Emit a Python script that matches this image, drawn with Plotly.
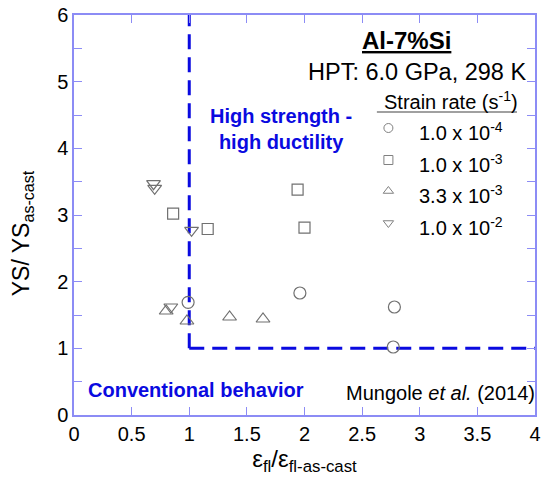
import plotly.graph_objects as go

# Data
circ_x = [0.99, 1.96, 2.78, 2.77]
circ_y = [1.69, 1.83, 1.62, 1.02]
sq_x = [0.86, 1.16, 1.94, 2.00]
sq_y = [3.02, 2.79, 3.38, 2.81]
tup_x = [0.80, 0.98, 1.35, 1.64]
tup_y = [1.56, 1.41, 1.47, 1.44]
tdn_x = [0.69, 0.70, 1.02, 0.84]
tdn_y = [3.47, 3.40, 2.77, 1.62]

# boundary lines
vline_x = [1, 1]
vline_y = [1, 6]
hline_x = [1, 4]
hline_y = [1, 1]

legend_labels = ["1.0 x 10<sup>-4</sup>", "1.0 x 10<sup>-3</sup>",
                 "3.3 x 10<sup>-3</sup>", "1.0 x 10<sup>-2</sup>"]
legend_symbols = ["circle-open", "square-open", "triangle-up-open", "triangle-down-open"]

FONT = "Arial, Liberation Sans, sans-serif"
GRAY = "#707070"
BLUE = "#0a0ae0"
AXC = "#8c8cf5"

fig = go.Figure()

fig.add_trace(go.Scatter(x=vline_x, y=vline_y, mode="lines",
                         line=dict(color=BLUE, width=3, dash="15px,8px"), showlegend=False))
fig.add_trace(go.Scatter(x=hline_x, y=hline_y, mode="lines",
                         line=dict(color=BLUE, width=3, dash="15px,8px"), showlegend=False))

series = [(circ_x, circ_y, "circle-open", 12),
          (sq_x, sq_y, "square-open", 11),
          (tup_x, tup_y, "triangle-up-open", 12),
          (tdn_x, tdn_y, "triangle-down-open", 12)]
for xs, ys, sym, sz in series:
    fig.add_trace(go.Scatter(x=xs, y=ys, mode="markers",
                             marker=dict(symbol=sym, size=sz, color=GRAY,
                                         line=dict(color=GRAY, width=1.2)),
                             showlegend=False))

# manual legend (overlay axes spanning the plot area)
leg_y = [0.7175, 0.6375, 0.56, 0.48]
leg_x = [0.682] * 4
for i in range(4):
    fig.add_trace(go.Scatter(x=[leg_x[i]], y=[leg_y[i]], xaxis="x2", yaxis="y2",
                             mode="markers",
                             marker=dict(symbol=legend_symbols[i], size=9, color="#808080",
                                         line=dict(color="#808080", width=1)),
                             showlegend=False, hoverinfo="skip"))
    fig.add_annotation(x=0.745, y=leg_y[i] - 0.008, xref="paper", yref="paper",
                       text=legend_labels[i], showarrow=False, xanchor="left", yanchor="middle",
                       font=dict(size=20, color="black", family=FONT))

fig.add_annotation(x=0.722, y=0.9375, xref="paper", yref="paper",
                   text="<b><u>Al-7%Si</u></b>", showarrow=False,
                   xanchor="center", yanchor="middle",
                   font=dict(size=24, color="black", family=FONT))
fig.add_annotation(x=0.985, y=0.8575, xref="paper", yref="paper",
                   text="HPT: 6.0 GPa, 298 K", showarrow=False, xanchor="right", yanchor="middle",
                   font=dict(size=23.5, color="black", family=FONT))
fig.add_annotation(x=0.668, y=0.785, xref="paper", yref="paper",
                   text="Strain rate (s<sup>-1</sup>)", showarrow=False, xanchor="left",
                   yanchor="middle",
                   font=dict(size=20, color="black", family=FONT))
fig.add_shape(type="line", xref="paper", yref="paper", x0=0.657, x1=0.961,
              y0=0.7575, y1=0.7575, line=dict(color="#808080", width=1.5))

fig.add_annotation(x=0.449, y=0.715, xref="paper", yref="paper",
                   text="<b>High strength -<br>high ductility</b>", showarrow=False,
                   xanchor="center", yanchor="middle",
                   font=dict(size=20, color=BLUE, family=FONT))
fig.add_annotation(x=0.025, y=0.0625, xref="paper", yref="paper",
                   text="<b>Conventional behavior</b>", showarrow=False, xanchor="left",
                   yanchor="middle",
                   font=dict(size=20, color=BLUE, family=FONT))
fig.add_annotation(x=1.004, y=0.055, xref="paper", yref="paper",
                   text="Mungole <i>et al.</i> (2014)", showarrow=False, xanchor="right",
                   yanchor="middle",
                   font=dict(size=20, color="black", family=FONT))

# y-axis title as rotated annotation (slightly below plot centre, as in the reference)
fig.add_annotation(x=-0.11, y=0.455, xref="paper", yref="paper",
                   text="YS/ YS<sub>as-cast</sub>", showarrow=False, textangle=-90,
                   xanchor="center", yanchor="middle",
                   font=dict(size=23, color="black", family=FONT))

axis_common = dict(showgrid=False, zeroline=False, showline=True, linecolor=AXC, linewidth=1.5,
                   mirror="ticks", ticks="inside", ticklen=8, tickcolor=AXC, tickwidth=1.2,
                   automargin=False,
                   tickfont=dict(size=20, color="black", family=FONT))

fig.update_layout(
    width=541, height=484,
    margin=dict(l=74, r=6, t=15, b=69),
    paper_bgcolor="white", plot_bgcolor="white",
    showlegend=False,
    xaxis=dict(range=[0, 4], dtick=0.5, tick0=0,
               title=dict(text="ε<sub>fl</sub>/ε<sub>fl-as-cast</sub>",
                          font=dict(size=24, color="black", family=FONT), standoff=3),
               **axis_common),
    yaxis=dict(range=[0, 6], dtick=1, tick0=0,
               minor=dict(dtick=0.5, ticks="inside", ticklen=8, tickcolor=AXC, tickwidth=1.2),
               **axis_common),
    xaxis2=dict(range=[0, 1], overlaying="x", visible=False),
    yaxis2=dict(range=[0, 1], overlaying="y", visible=False),
)

fig.write_html("out.html")
